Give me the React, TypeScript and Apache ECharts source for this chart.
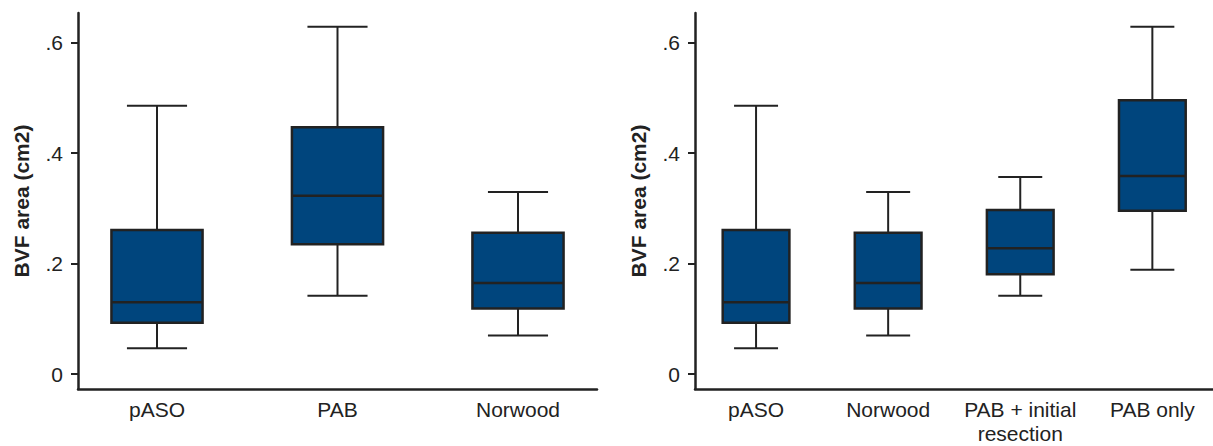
import React, { useEffect, useRef } from "react";
import * as echarts from "echarts";

// Left panel
const leftCategories = ["pASO", "PAB", "Norwood"];
// [min, Q1, median, Q3, max]
const leftBoxes = [
  [0.047, 0.093, 0.130, 0.261, 0.486],
  [0.142, 0.235, 0.323, 0.447, 0.629],
  [0.070, 0.119, 0.165, 0.256, 0.330],
];

// Right panel
const rightCategories = ["pASO", "Norwood", "PAB + initial\nresection", "PAB only"];
const rightBoxes = [
  [0.047, 0.093, 0.130, 0.261, 0.486],
  [0.070, 0.119, 0.165, 0.256, 0.330],
  [0.142, 0.181, 0.228, 0.297, 0.357],
  [0.189, 0.296, 0.359, 0.496, 0.629],
];

const yTicks = [0, 0.2, 0.4, 0.6];
const yMin = -0.027;
const yMax = 0.654;
const yName = "BVF area (cm2)";

const FONT = "Liberation Sans, Arial, Helvetica, sans-serif";
const INK = "#222222";
const FILL = "#00457d";
const FS = 21;

function fmtTick(v: number) {
  if (Math.abs(v) < 1e-9) return "0";
  return "." + Math.round(v * 10);
}

function renderBox(params: any, api: any) {
  const idx = api.value(0);
  const vals = [api.value(1), api.value(2), api.value(3), api.value(4), api.value(5)];
  const band = api.size([1, 0])[0];
  const boxW = band * 0.505;
  const capW = band * 0.333;
  const pMin = api.coord([idx, vals[0]]);
  const pQ1 = api.coord([idx, vals[1]]);
  const pMed = api.coord([idx, vals[2]]);
  const pQ3 = api.coord([idx, vals[3]]);
  const pMax = api.coord([idx, vals[4]]);
  const cx = pMed[0];
  const lineStyle = { stroke: INK, lineWidth: 2 };
  return {
    type: "group",
    children: [
      { type: "line", shape: { x1: cx, y1: pMax[1], x2: cx, y2: pQ3[1] }, style: lineStyle },
      { type: "line", shape: { x1: cx, y1: pQ1[1], x2: cx, y2: pMin[1] }, style: lineStyle },
      { type: "line", shape: { x1: cx - capW / 2, y1: pMax[1], x2: cx + capW / 2, y2: pMax[1] }, style: lineStyle },
      { type: "line", shape: { x1: cx - capW / 2, y1: pMin[1], x2: cx + capW / 2, y2: pMin[1] }, style: lineStyle },
      {
        type: "rect",
        shape: { x: cx - boxW / 2, y: pQ3[1], width: boxW, height: pQ1[1] - pQ3[1] },
        style: { fill: FILL, stroke: INK, lineWidth: 2.5 },
      },
      { type: "line", shape: { x1: cx - boxW / 2, y1: pMed[1], x2: cx + boxW / 2, y2: pMed[1] }, style: { stroke: INK, lineWidth: 2.5 } },
    ],
  };
}

export default function App() {
  const ref = useRef<HTMLDivElement>(null);
  useEffect(() => {
    if (!ref.current) return;
    const chart = echarts.init(ref.current, null, { renderer: "svg" });
    const top = 13;
    const height = 376;

    const frameY = (gridIndex: number) => ({
      type: "value",
      gridIndex,
      min: yMin,
      max: yMax,
      name: yName,
      nameLocation: "middle",
      nameGap: 46,
      nameTextStyle: { fontFamily: FONT, fontSize: FS, fontWeight: "bold", color: INK },
      splitLine: { show: false },
      axisLine: { show: true, lineStyle: { color: INK, width: 2.5 } },
      axisTick: { show: true, length: 7, customValues: yTicks, lineStyle: { color: INK, width: 2 } },
      axisLabel: {
        show: true,
        customValues: yTicks,
        margin: 15,
        formatter: (v: number) => fmtTick(v),
        fontFamily: FONT,
        fontSize: FS,
        color: INK,
      },
    });
    const frameX = (gridIndex: number) => ({
      type: "value",
      gridIndex,
      min: 0,
      max: 1,
      splitLine: { show: false },
      axisLine: { show: true, onZero: false, lineStyle: { color: INK, width: 2.5 } },
      axisTick: { show: false },
      axisLabel: { show: false },
    });
    const boxX = (gridIndex: number, cats: string[]) => ({
      type: "category",
      gridIndex,
      data: cats,
      boundaryGap: true,
      axisLine: { show: false },
      axisTick: { show: false },
      axisLabel: {
        show: true,
        interval: 0,
        margin: 8,
        fontFamily: FONT,
        fontSize: FS,
        lineHeight: 24,
        color: INK,
      },
    });
    const boxY = (gridIndex: number) => ({
      type: "value",
      gridIndex,
      min: yMin,
      max: yMax,
      show: false,
      splitLine: { show: false },
    });

    const toData = (boxes: number[][]) => boxes.map((b, i) => [i, ...b]);
    const g = (left: number, width: number) => ({
      left,
      top,
      width,
      height,
      containLabel: false,
      outerBoundsMode: "none",
    });

    chart.setOption({
      animation: false,
      backgroundColor: "#ffffff",
      grid: [g(78, 519), g(66.75, 541.5), g(695, 518), g(690, 528.4)],
      xAxis: [frameX(0), boxX(1, leftCategories), frameX(2), boxX(3, rightCategories)],
      yAxis: [frameY(0), boxY(1), frameY(2), boxY(3)],
      series: [
        {
          type: "custom",
          xAxisIndex: 1,
          yAxisIndex: 1,
          renderItem: renderBox,
          encode: { x: 0, y: [1, 2, 3, 4, 5] },
          data: toData(leftBoxes),
          clip: false,
        },
        {
          type: "custom",
          xAxisIndex: 3,
          yAxisIndex: 3,
          renderItem: renderBox,
          encode: { x: 0, y: [1, 2, 3, 4, 5] },
          data: toData(rightBoxes),
          clip: false,
        },
      ],
    });
    return () => chart.dispose();
  }, []);
  return (
    <div
      ref={ref}
      style={{ position: "fixed", left: 0, top: 0, width: 1213, height: 446, background: "#fff" }}
    />
  );
}
